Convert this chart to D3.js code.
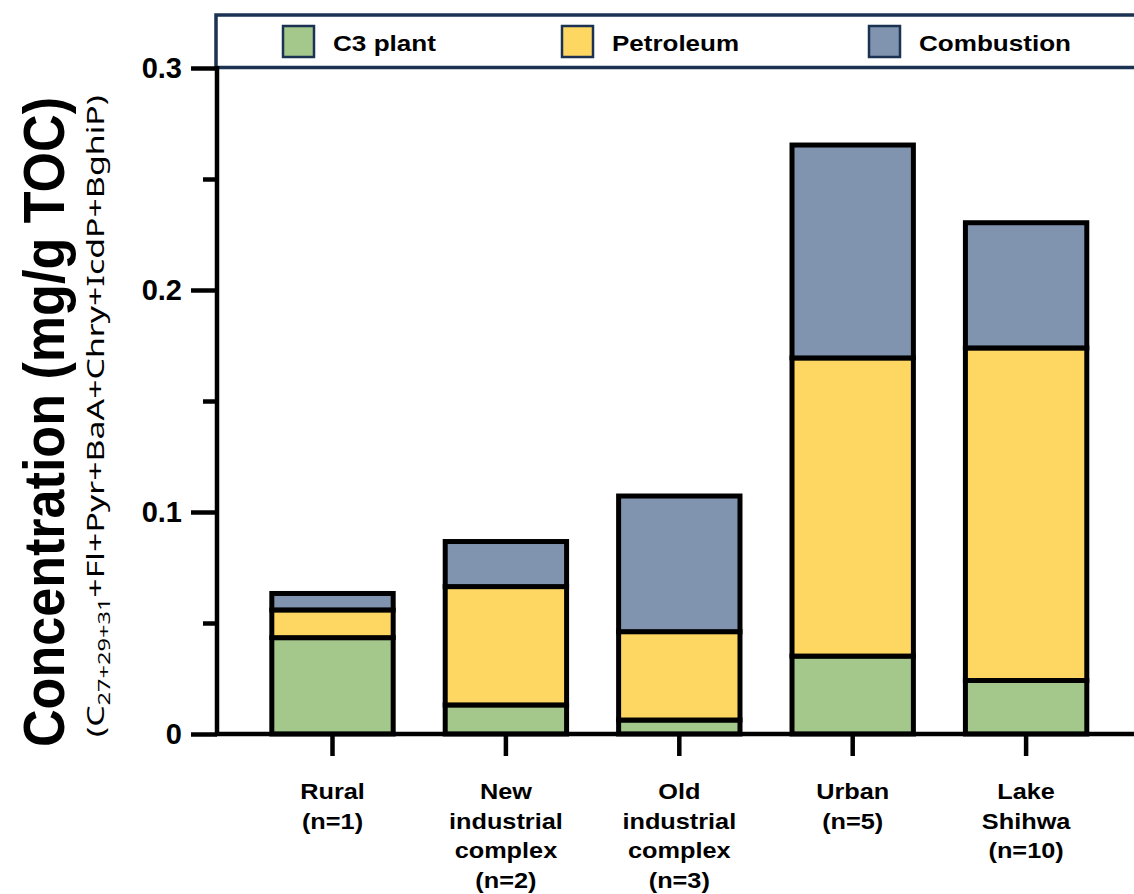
<!DOCTYPE html>
<html>
<head>
<meta charset="utf-8">
<script src="https://cdn.jsdelivr.net/npm/d3@7"></script>
<style>
  html, body { margin: 0; padding: 0; background: #fff; }
  svg { display: block; }
</style>
</head>
<body>
<svg id="chart" width="1134" height="894"></svg>
<script>
// Site groups and sample counts
const categories = ["Rural", "New industrial complex", "Old industrial complex", "Urban", "Lake Shihwa"];
const categoryLines = [
  ["Rural", "(n=1)"],
  ["New", "industrial", "complex", "(n=2)"],
  ["Old", "industrial", "complex", "(n=3)"],
  ["Urban", "(n=5)"],
  ["Lake", "Shihwa", "(n=10)"]
];

// Source contributions (mg/g TOC)
const c3Plant    = [0.0434, 0.0131, 0.0063, 0.0351, 0.0241];
const petroleum  = [0.0125, 0.0533, 0.0398, 0.1343, 0.1498];
const combustion = [0.0074, 0.0203, 0.0611, 0.0959, 0.0564];

const seriesNames  = ["C3 plant", "Petroleum", "Combustion"];
const seriesColors = ["#a4c78c", "#fed762", "#8094b0"];

const yMajorTicks = [0, 0.1, 0.2, 0.3];
const yMinorTicks = [0.05, 0.15, 0.25];

const svg = d3.select("#chart");

const rows = categories.map((c, i) => ({
  category: c,
  "C3 plant": c3Plant[i],
  "Petroleum": petroleum[i],
  "Combustion": combustion[i]
}));

const x = d3.scaleBand()
  .domain(categories)
  .range([245.8, 1112.8])
  .paddingInner(0.3)
  .paddingOuter(0.15);

const y = d3.scaleLinear().domain([0, 0.3]).range([734, 68]);

const color = d3.scaleOrdinal().domain(seriesNames).range(seriesColors);

const stacked = d3.stack().keys(seriesNames)(rows);

// Stacked bars
svg.append("g")
  .selectAll("g")
  .data(stacked)
  .join("g")
  .attr("fill", d => color(d.key))
  .selectAll("rect")
  .data(d => d.map(p => ({ p, cat: p.data.category })))
  .join("rect")
  .attr("x", d => x(d.cat))
  .attr("width", x.bandwidth())
  .attr("y", d => y(d.p[1]))
  .attr("height", d => y(d.p[0]) - y(d.p[1]))
  .attr("stroke", "#000")
  .attr("stroke-width", 5);

// Legend box across the top of the plot
const legend = svg.append("g");
legend.append("rect")
  .attr("x", 216).attr("y", 15)
  .attr("width", 930).attr("height", 52.5)
  .attr("fill", "#fff")
  .attr("stroke", "#1b3252")
  .attr("stroke-width", 3.5);

const legendX = [283, 562, 869];
const legendTextLen = [103, 127, 152];
seriesNames.forEach((name, i) => {
  legend.append("rect")
    .attr("x", legendX[i]).attr("y", 26)
    .attr("width", 31).attr("height", 31)
    .attr("fill", color(name))
    .attr("stroke", "#1b3252")
    .attr("stroke-width", 2.5);
  legend.append("text")
    .attr("x", legendX[i] + 50).attr("y", 51)
    .attr("font-family", "Liberation Sans, Arial, sans-serif")
    .attr("font-weight", "bold")
    .attr("font-size", 22)
    .attr("textLength", legendTextLen[i])
    .attr("lengthAdjust", "spacingAndGlyphs")
    .attr("fill", "#000")
    .text(name);
});

// Y axis: major ticks with labels
const yAxisMajor = d3.axisLeft(y)
  .tickValues(yMajorTicks)
  .tickSize(26)
  .tickPadding(9)
  .tickFormat(d => d === 0 ? "0" : d3.format(".1f")(d));

const gy = svg.append("g").attr("transform", "translate(217,0)").call(yAxisMajor);
gy.select(".domain").remove();
gy.selectAll(".tick line").attr("stroke", "#000").attr("stroke-width", 4.5);
gy.selectAll(".tick text")
  .attr("font-family", "Liberation Sans, Arial, sans-serif")
  .attr("font-weight", "bold")
  .attr("font-size", 29)
  .attr("fill", "#000");

// Y axis: minor ticks
const gyMinor = svg.append("g").attr("transform", "translate(217,0)")
  .call(d3.axisLeft(y).tickValues(yMinorTicks).tickSize(14).tickFormat(""));
gyMinor.select(".domain").remove();
gyMinor.selectAll(".tick line").attr("stroke", "#000").attr("stroke-width", 4.5);

// Y axis line
svg.append("line")
  .attr("x1", 217).attr("x2", 217)
  .attr("y1", y(0.3) - 2).attr("y2", y(0) + 2)
  .attr("stroke", "#000").attr("stroke-width", 4.5);

// X axis baseline
svg.append("line")
  .attr("x1", 215).attr("x2", 1134)
  .attr("y1", y(0)).attr("y2", y(0))
  .attr("stroke", "#000").attr("stroke-width", 4.5);

// X axis ticks
const gx = svg.append("g").attr("transform", `translate(0,${y(0)})`)
  .call(d3.axisBottom(x).tickSize(22).tickFormat(""));
gx.select(".domain").remove();
gx.selectAll(".tick line").attr("stroke", "#000").attr("stroke-width", 4.5);

// X category labels (multi-line)
const labelG = svg.append("g");
categories.forEach((c, i) => {
  const cx = x(c) + x.bandwidth() / 2;
  const t = labelG.append("text")
    .attr("transform", `translate(${cx},0) scale(1.15,1)`)
    .attr("text-anchor", "middle")
    .attr("font-family", "Liberation Sans, Arial, sans-serif")
    .attr("font-weight", "bold")
    .attr("font-size", 22)
    .attr("fill", "#000");
  categoryLines[i].forEach((line, j) => {
    t.append("tspan").attr("x", 0).attr("y", 799 + j * 29.6).text(line);
  });
});

// Y axis title
svg.append("text")
  .attr("transform", "translate(64,422) rotate(-90)")
  .attr("text-anchor", "middle")
  .attr("font-family", "Liberation Sans Narrow, Liberation Sans, Arial, sans-serif")
  .attr("font-weight", "bold")
  .attr("font-size", 58)
  .attr("textLength", 650)
  .attr("lengthAdjust", "spacingAndGlyphs")
  .attr("fill", "#000")
  .text("Concentration  (mg/g TOC)");

// Y axis subtitle listing the summed compounds
const sub = svg.append("text")
  .attr("transform", "translate(104,416) rotate(-90)")
  .attr("text-anchor", "middle")
  .attr("font-family", "Noto Sans, Open Sans, sans-serif")
  .attr("font-size", 23)
  .attr("textLength", 642)
  .attr("lengthAdjust", "spacingAndGlyphs")
  .attr("fill", "#000");
sub.append("tspan").text("(C");
sub.append("tspan").attr("font-size", 16).attr("dy", 6).text("27+29+31");
sub.append("tspan").attr("dy", -6).text("+Fl+Pyr+BaA+Chry+IcdP+BghiP)");
</script>
</body>
</html>
